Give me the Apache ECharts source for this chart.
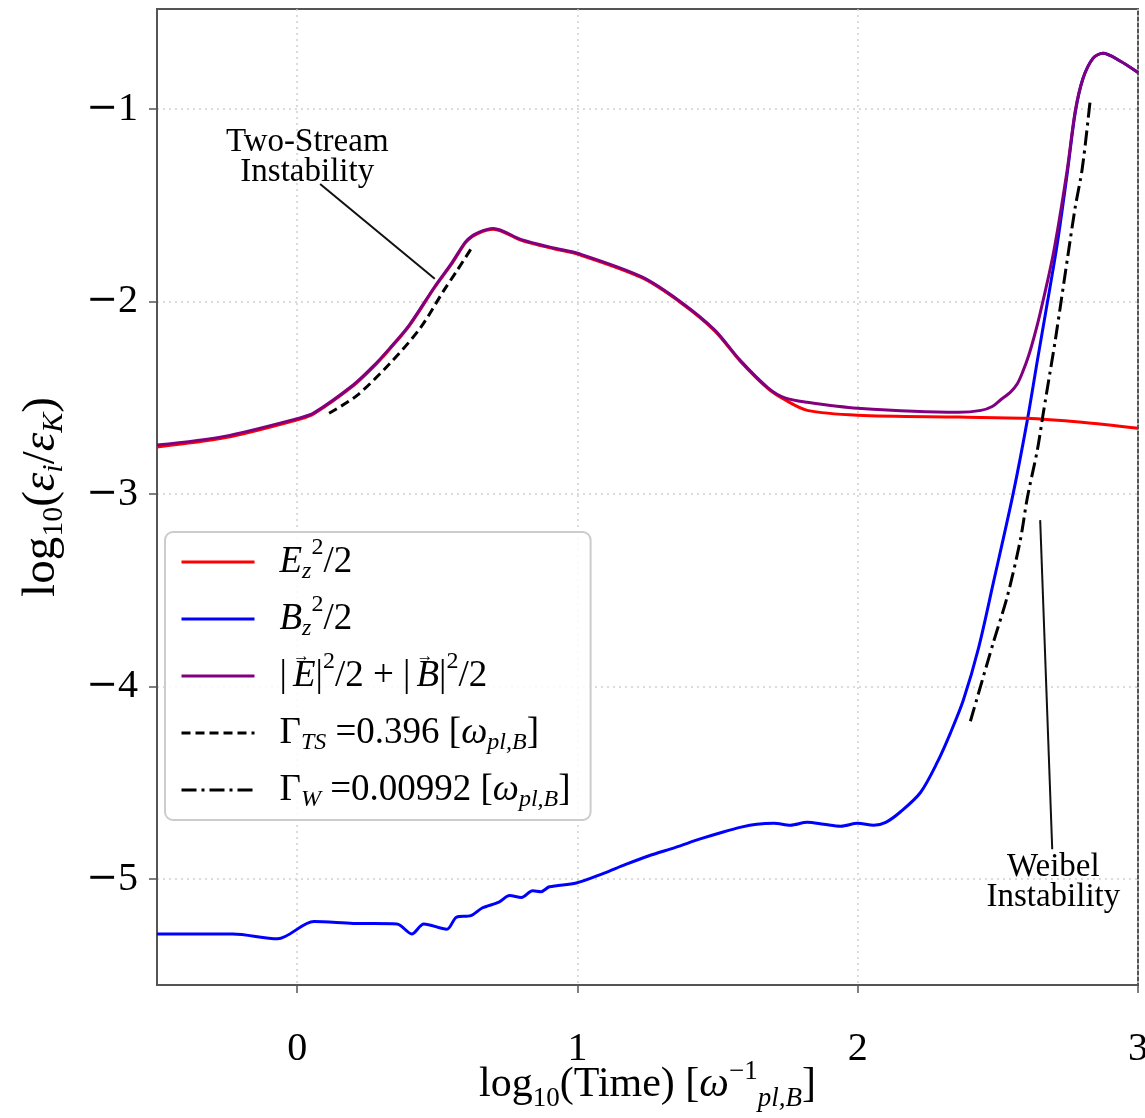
<!DOCTYPE html>
<html><head><meta charset="utf-8">
<script src="https://cdn.jsdelivr.net/npm/echarts@6/dist/echarts.min.js"></script>
<style>html,body{margin:0;padding:0;background:#fff}#c{width:1145px;height:1118px}</style>
</head><body><div id="c"></div>
<script>
// ---- data ----
const xTicks = [0, 1, 2, 3];
const yTicks = [-5, -4, -3, -2, -1];
const xRange = [-0.5, 3];
const yRange = [-5.55, -0.48];

const ezData = [[-0.5,-2.755],[-0.26,-2.708],[0.01,-2.61],[0.06,-2.582],[0.2,-2.437],[0.27,-2.342],[0.33,-2.247],[0.4,-2.126],[0.49,-1.928],[0.55,-1.807],[0.6,-1.695],[0.625,-1.662],[0.65,-1.643],[0.675,-1.63],[0.7,-1.624],[0.8,-1.682],[0.92,-1.727],[1.0,-1.753],[1.23,-1.876],[1.37,-2.007],[1.49,-2.152],[1.58,-2.308],[1.68,-2.452],[1.74,-2.51],[1.82,-2.565],[2.0,-2.59],[2.36,-2.6],[2.6,-2.606],[2.8,-2.627],[3.0,-2.658]];

const bzData = [[-0.5,-5.285],[-0.23,-5.285],[-0.07,-5.31],[0.06,-5.22],[0.2,-5.23],[0.356,-5.233],[0.409,-5.285],[0.452,-5.233],[0.534,-5.26],[0.569,-5.197],[0.62,-5.19],[0.66,-5.15],[0.72,-5.12],[0.758,-5.085],[0.8,-5.095],[0.84,-5.06],[0.87,-5.065],[0.9,-5.04],[0.996,-5.02],[1.093,-4.97],[1.17,-4.925],[1.253,-4.88],[1.35,-4.835],[1.441,-4.79],[1.52,-4.755],[1.584,-4.73],[1.64,-4.715],[1.701,-4.71],[1.76,-4.72],[1.82,-4.705],[1.879,-4.715],[1.94,-4.725],[2.0,-4.71],[2.057,-4.72],[2.1,-4.705],[2.153,-4.65],[2.224,-4.55],[2.285,-4.39],[2.331,-4.24],[2.377,-4.07],[2.431,-3.80],[2.484,-3.46],[2.555,-2.995],[2.605,-2.617],[2.641,-2.306],[2.676,-2.01],[2.712,-1.7],[2.747,-1.34],[2.776,-1.02],[2.804,-0.84],[2.84,-0.735],[2.875,-0.71],[2.936,-0.75],[3.0,-0.81]];

const totalData = [[-0.5,-2.745],[-0.26,-2.7],[0.01,-2.604],[0.06,-2.578],[0.2,-2.433],[0.27,-2.338],[0.33,-2.243],[0.4,-2.122],[0.49,-1.924],[0.55,-1.803],[0.6,-1.691],[0.625,-1.658],[0.65,-1.639],[0.675,-1.626],[0.7,-1.62],[0.8,-1.678],[0.92,-1.723],[1.0,-1.749],[1.23,-1.872],[1.37,-2.003],[1.49,-2.148],[1.58,-2.304],[1.68,-2.448],[1.74,-2.5],[1.82,-2.523],[2.0,-2.554],[2.36,-2.575],[2.44,-2.565],[2.48,-2.545],[2.51,-2.51],[2.545,-2.47],[2.57,-2.425],[2.59,-2.36],[2.61,-2.28],[2.63,-2.18],[2.651,-2.06],[2.698,-1.75],[2.747,-1.32],[2.776,-1.01],[2.804,-0.84],[2.84,-0.735],[2.875,-0.71],[2.936,-0.75],[3.0,-0.81]];

const tsFit = [[0.114,-2.58],[0.214,-2.487],[0.331,-2.321],[0.438,-2.14],[0.523,-1.943],[0.57,-1.84],[0.623,-1.72]];

const wFit = [[2.402,-4.18],[2.484,-3.77],[2.534,-3.53],[2.58,-3.24],[2.605,-3.02],[2.641,-2.77],[2.662,-2.58],[2.687,-2.36],[2.705,-2.2],[2.751,-1.75],[2.776,-1.51],[2.801,-1.31],[2.829,-0.96]];

const tsPointer = [[0.082,-1.389],[0.491,-1.881]];
const wPointer = [[2.651,-3.135],[2.694,-4.845]];
const tsLabelAt = [0.036,-1.25];
const wLabelAt = [2.698,-5.015];
const tsLabelText = 'Two-Stream\nInstability';
const wLabelText = 'Weibel\nInstability';

const legendLabels = {
  ez: '{i|E}{sub|z}{sup|2}{n|/2}',
  bz: '{i|B}{sub|z}{sup|2}{n|/2}',
  tot: '{n||}{arr|→}{i|E}{n||}{sup|2}{n|/2 + |}{arr|→}{i|B}{n||}{sup|2}{n|/2}',
  ts: '{n|Γ}{sub|TS}{n| =0.396 [}{i|ω}{sub|pl,B}{n|]}',
  w: '{n|Γ}{sub|W}{n| =0.00992 [}{i|ω}{sub|pl,B}{n|]}'
};

// ---- chart ----
const F = '"Liberation Serif", "DejaVu Serif", serif';
const fmt = v => (v < 0 ? '{m|\u2212}' + Math.abs(v) : String(v));

const LH = 56;
const FS = 37;
const legRich = {
  n: {fontFamily: F, fontSize: FS, lineHeight: LH, color: '#000'},
  i: {fontFamily: F, fontSize: FS, lineHeight: LH, fontStyle: 'italic', color: '#000'},
  arr: {fontFamily: F, fontSize: 17, width: 0, verticalAlign: 'top', padding: [0, 0, 0, 6], color: '#000'},
  sub: {fontFamily: F, fontSize: 24, lineHeight: 20, fontStyle: 'italic', verticalAlign: 'bottom', padding: [0, 0, 6, 0], color: '#000'},
  sup: {fontFamily: F, fontSize: 24, lineHeight: 20, verticalAlign: 'top', padding: [2, 0, 0, 0], color: '#000'}
};
const nameRich = (fs) => ({
  n: {fontFamily: F, fontSize: fs, lineHeight: 54, color: '#000'},
  i: {fontFamily: F, fontSize: fs, lineHeight: 54, fontStyle: 'italic', color: '#000'},
  sub: {fontFamily: F, fontSize: Math.round(fs * 0.64), lineHeight: 26, verticalAlign: 'bottom', color: '#000'},
  isub: {fontFamily: F, fontSize: Math.round(fs * 0.64), lineHeight: 26, fontStyle: 'italic', verticalAlign: 'bottom', color: '#000'},
  sup: {fontFamily: F, fontSize: Math.round(fs * 0.64), lineHeight: 26, verticalAlign: 'top', color: '#000'}
});
const tickRich = {m: {fontFamily: '"DejaVu Serif", serif', fontSize: 38, color: '#000'}};

const chart = echarts.init(document.getElementById('c'), null, {renderer: 'canvas'});

const curve = (name, data, color, type, width) => ({
  name, type: 'line', data, symbol: 'none', showSymbol: false,
  smooth: 0.3, animation: false,
  lineStyle: {color, width, type}, itemStyle: {color}
});
const pointer = (data) => ({
  type: 'line', data, symbol: 'none', animation: false, silent: true,
  lineStyle: {color: '#111', width: 2}, z: 1
});

chart.setOption({
  animation: false,
  backgroundColor: '#fff',
  grid: {left: 157, right: 7, top: 9, bottom: 133, show: true, borderColor: '#555', borderWidth: 2,
         backgroundColor: 'transparent', outerBoundsMode: 'none', containLabel: false},
  xAxis: {
    type: 'value', min: xRange[0], max: xRange[1],
    name: 'log{sub|10}(Time) [{i|ω}{sup|−1}{isub|pl,B}]',
    nameLocation: 'middle', nameGap: 73, nameMoveOverlap: false,
    nameTextStyle: {fontFamily: F, fontSize: 42, color: '#000', rich: nameRich(42)},
    axisLine: {show: true, onZero: false, lineStyle: {color: '#555', width: 2}},
    axisTick: {show: true, inside: false, length: 8, lineStyle: {color: '#555', width: 1.5}, customValues: xTicks},
    axisLabel: {customValues: xTicks, formatter: fmt, fontFamily: F, fontSize: 40, color: '#000', margin: 44, rich: tickRich},
    splitLine: {show: true, lineStyle: {color: '#cfcfcf', width: 1.5, type: [2, 4]}},
    minorTick: {show: false}
  },
  yAxis: {
    type: 'value', min: yRange[0], max: yRange[1],
    name: 'log{sub|10}({i|ε}{isub|i}/{i|ε}{isub|K})',
    nameLocation: 'middle', nameGap: 88, nameRotate: 90, nameMoveOverlap: false,
    nameTextStyle: {fontFamily: F, fontSize: 47, color: '#000', rich: nameRich(47)},
    axisLine: {show: true, onZero: false, lineStyle: {color: '#555', width: 2}},
    axisTick: {show: true, inside: false, length: 8, lineStyle: {color: '#555', width: 1.5}, customValues: yTicks},
    axisLabel: {customValues: yTicks, formatter: fmt, fontFamily: F, fontSize: 40, color: '#000', margin: 19, rich: tickRich},
    splitLine: {show: true, lineStyle: {color: '#cfcfcf', width: 1.5, type: [2, 4]}}
  },
  legend: {
    show: true, orient: 'vertical', left: 165, top: 532,
    data: ['ez', 'bz', 'tot', 'ts', 'w'],
    selectedMode: false,
    itemWidth: 73, itemHeight: 14, itemGap: 1,
    padding: [2, 20, 2, 15],
    borderColor: '#cccccc', borderWidth: 2, borderRadius: 8,
    backgroundColor: 'rgba(255,255,255,0.85)',
    itemStyle: {opacity: 0, borderWidth: 0},
    lineStyle: {width: 3},
    formatter: name => legendLabels[name],
    textStyle: {fontFamily: F, fontSize: FS, color: '#000', lineHeight: LH, height: LH, padding: [0, 0, 0, 20], rich: legRich}
  },
  series: [
    pointer(tsPointer),
    pointer(wPointer),
    curve('bz', bzData, '#0000ff', 'solid', 3),
    curve('ez', ezData, '#ff0000', 'solid', 3),
    curve('tot', totalData, '#800080', 'solid', 3),
    curve('ts', tsFit, '#000000', [9, 5], 3),
    curve('w', wFit, '#000000', [15, 5, 3, 5], 3)
  ]
});

const p1 = chart.convertToPixel({gridIndex: 0}, tsLabelAt);
const p2 = chart.convertToPixel({gridIndex: 0}, wLabelAt);
const txt = (p, t) => ({
  type: 'text', x: p[0], y: p[1], z: 100,
  style: {text: t, font: '33px ' + F, fill: '#000', align: 'center', verticalAlign: 'middle', lineHeight: 30}
});
chart.setOption({graphic: [txt(p1, tsLabelText), txt(p2, wLabelText)]});
</script>
</body></html>
